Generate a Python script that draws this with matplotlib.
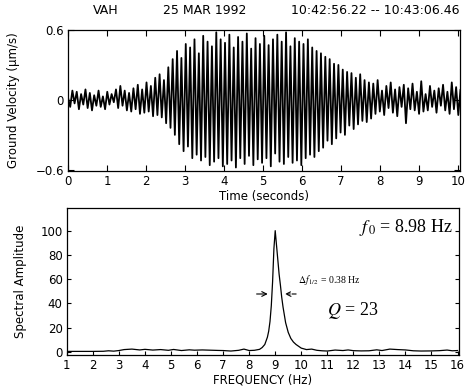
import numpy as np
import matplotlib
matplotlib.use('Agg')
import matplotlib.pyplot as plt

# Seismogram: peak values read per half-cycle (um/s), ~9 Hz signal over 10.24 s
velocity = [
    0.02, -0.06, 0.08, -0.03, 0.07, -0.08, 0.05, -0.04, 0.09, -0.07,
    0.06, -0.09, 0.04, -0.05, 0.08, -0.06, 0.03, -0.08, 0.07, -0.04,
    0.05, -0.02, 0.09, -0.07, 0.12, -0.05, 0.08, -0.09, 0.06, -0.10,
    0.10, -0.08, 0.13, -0.12, 0.09, -0.11, 0.15, -0.10, 0.12, -0.14,
    0.19, -0.13, 0.22, -0.15, 0.17, -0.20, 0.28, -0.24, 0.35, -0.30,
    0.42, -0.38, 0.36, -0.44, 0.48, -0.40, 0.45, -0.50, 0.52, -0.47,
    0.40, -0.52, 0.55, -0.49, 0.50, -0.56, 0.46, -0.53, 0.58, -0.50,
    0.52, -0.57, 0.49, -0.55, 0.56, -0.52, 0.45, -0.58, 0.54, -0.50,
    0.50, -0.55, 0.57, -0.48, 0.44, -0.56, 0.53, -0.51, 0.48, -0.54,
    0.55, -0.50, 0.47, -0.57, 0.52, -0.46, 0.56, -0.53, 0.50, -0.55,
    0.58, -0.49, 0.46, -0.54, 0.53, -0.52, 0.50, -0.56, 0.48, -0.50,
    0.52, -0.47, 0.45, -0.49, 0.42, -0.44, 0.40, -0.41, 0.37, -0.35,
    0.35, -0.38, 0.31, -0.33, 0.30, -0.28, 0.26, -0.30, 0.24, -0.22,
    0.23, -0.25, 0.19, -0.21, 0.22, -0.18, 0.17, -0.19, 0.15, -0.16,
    0.14, -0.12, 0.17, -0.10, 0.08, -0.13, 0.12, -0.07, 0.15, -0.11,
    0.09, -0.14, 0.11, -0.06, 0.13, -0.20, 0.10, -0.08, 0.14, -0.09,
    0.07, -0.12, 0.16, -0.10, 0.05, -0.09, 0.12, -0.06, 0.08, -0.11,
    0.10, -0.05, 0.13, -0.09, 0.07, -0.12, 0.15, -0.08, 0.11, -0.13,
    0.09, -0.10, 0.14, -0.06,
]
record_length = 10.24  # 10:42:56.22 -- 10:43:06.46

# Spectrum
freq = [1.0, 1.5, 2.0, 2.4, 2.6, 2.8, 3.0, 3.2, 3.5, 3.8, 4.0, 4.3, 4.6, 4.9,
        5.1, 5.4, 5.7, 5.9, 6.2, 6.5, 6.8, 7.0, 7.3, 7.6, 7.8, 8.0, 8.2, 8.4,
        8.5, 8.6, 8.7, 8.75, 8.8, 8.85, 8.9, 8.95, 9.0, 9.05, 9.1, 9.15, 9.2,
        9.25, 9.3, 9.4, 9.5, 9.6, 9.7, 9.8, 10.0, 10.2, 10.4, 10.6, 10.8, 11.0,
        11.3, 11.6, 11.8, 12.0, 12.3, 12.6, 12.9, 13.1, 13.4, 13.7, 14.0, 14.3,
        14.6, 15.0, 15.3, 15.6, 15.8, 16.0]
amp = [0.3, 0.3, 0.3, 0.4, 0.8, 0.5, 1.0, 1.8, 2.2, 1.5, 2.0, 1.4, 1.8, 1.2,
       1.9, 1.0, 1.6, 1.3, 1.5, 1.3, 1.1, 1.0, 0.6, 1.2, 2.2, 1.0, 1.2, 2.0,
       3.5, 6.0, 12, 17, 25, 38, 58, 85, 100, 88, 76, 64, 55,
       45, 37, 24, 16, 11, 8, 6, 3.0, 1.8, 2.2, 1.2, 0.8, 0.6,
       1.4, 1.0, 1.5, 0.9, 0.7, 0.8, 1.6, 1.0, 2.2, 1.8, 1.5, 0.8,
       0.6, 0.7, 0.9, 1.4, 0.8, 1.0]

plt.rcParams['font.size'] = 8.5
plt.rcParams['mathtext.fontset'] = 'stix'
fig = plt.figure(figsize=(4.74, 3.91), dpi=100)

# ---- top: seismogram
ax1 = fig.add_axes([0.1435, 0.5627, 0.827, 0.3606])
t = np.linspace(0, record_length, len(velocity))
ax1.plot(t, velocity, color='black', lw=1.3)
ax1.set_xlim(0, 10.06)
ax1.set_ylim(-0.61, 0.6)
ax1.set_xticks(range(11))
ax1.set_yticks([-0.6, 0, 0.6])
ax1.set_yticklabels(['\u22120.6', '0', '0.6'])
ax1.tick_params(direction='in', top=True, right=True, length=4, width=0.8, pad=3)
ax1.set_xlabel('Time (seconds)', labelpad=1)
ax1.set_ylabel('Ground Velocity (\u03bcm/s)', labelpad=11)
fig.text(0.222, 0.963, 'VAH', ha='center', fontsize=9)
fig.text(0.432, 0.963, '25 MAR 1992', ha='center', fontsize=9)
fig.text(0.792, 0.963, '10:42:56.22 -- 10:43:06.46', ha='center', fontsize=9)

# ---- bottom: spectrum
ax2 = fig.add_axes([0.141, 0.092, 0.827, 0.376])
ax2.plot(freq, amp, color='black', lw=0.9)
ax2.set_xlim(1, 16.05)
ax2.set_ylim(-2.7, 118.7)
ax2.set_xticks(range(1, 17))
ax2.set_yticks(range(0, 101, 20))
ax2.tick_params(direction='in', right=True, length=3, width=0.8, pad=3)
ax2.set_xlabel('FREQUENCY (Hz)', labelpad=1)
ax2.set_ylabel('Spectral Amplitude', labelpad=10)

serif = 'Liberation Serif'
ax2.text(12.2, 103, r'$f_{\,0}$ = 8.98 Hz', fontsize=13, family=serif, va='center')
ax2.text(11.0, 34, r'$Q$ = 23', fontsize=13, family=serif, va='center')
ax2.text(9.88, 59, r'$\Delta f_{\,1/2}$ = 0.38 Hz', fontsize=7, family=serif, va='center')
ax2.annotate('', xy=(8.82, 47.7), xytext=(8.18, 47.7),
             arrowprops=dict(arrowstyle='->', color='black', lw=0.8))
ax2.annotate('', xy=(9.27, 47.7), xytext=(9.91, 47.7),
             arrowprops=dict(arrowstyle='->', color='black', lw=0.8, ls='--'))

for ax in (ax1, ax2):
    for s in ax.spines.values():
        s.set_linewidth(0.9)

fig.savefig('out.png', dpi=100)
